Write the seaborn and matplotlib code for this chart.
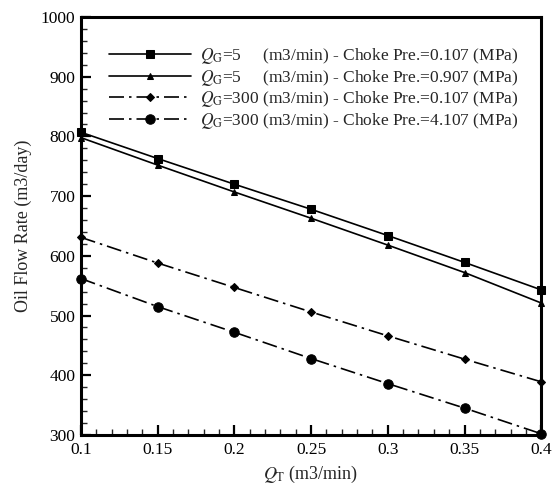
import matplotlib
matplotlib.use("Agg")
import matplotlib.pyplot as plt
from matplotlib.ticker import MultipleLocator
import seaborn as sns
import pandas as pd

q_t = [0.10, 0.15, 0.20, 0.25, 0.30, 0.35, 0.40]
s1 = [807, 763, 720, 678, 634, 589, 543]
s2 = [798, 752, 707, 663, 618, 572, 521]
s3 = [631, 588, 547, 506, 466, 427, 389]
s4 = [562, 515, 472, 428, 386, 345, 302]
labels = [
    r"$Q_{\mathrm{G}}$=5     (m3/min) - Choke Pre.=0.107 (MPa)",
    r"$Q_{\mathrm{G}}$=5     (m3/min) - Choke Pre.=0.907 (MPa)",
    r"$Q_{\mathrm{G}}$=300 (m3/min) - Choke Pre.=0.107 (MPa)",
    r"$Q_{\mathrm{G}}$=300 (m3/min) - Choke Pre.=4.107 (MPa)",
]
series = [s1, s2, s3, s4]
markers = ["s", "^", "D", "o"]
msizes = [6, 5, 4.5, 6.8]
styles = ["-", "-", (0, (9, 3, 1.5, 3)), (0, (9, 3, 1.5, 3))]

sns.set_style("white")
plt.rcParams["font.family"] = ["Liberation Serif", "DejaVu Serif"]
plt.rcParams["mathtext.fontset"] = "stix"

fig = plt.figure(figsize=(5.54, 4.86), dpi=100)
ax = fig.add_axes([0.146, 0.105, 0.831, 0.860])

for vals, lab, m, ms, ls in zip(series, labels, markers, msizes, styles):
    df = pd.DataFrame({"x": q_t, "y": vals})
    sns.lineplot(data=df, x="x", y="y", ax=ax, color="black", marker=m,
                 markersize=ms, linestyle=ls, linewidth=1.2, label=lab,
                 markeredgecolor="black", clip_on=False)

ax.set_xlim(0.1, 0.4)
ax.set_ylim(300, 1000)
ax.xaxis.set_minor_locator(MultipleLocator(0.01))
ax.yaxis.set_major_locator(MultipleLocator(100))
ax.yaxis.set_minor_locator(MultipleLocator(20))
ax.set_xticks(q_t)
ax.set_xticklabels(["0.1", "0.15", "0.2", "0.25", "0.3", "0.35", "0.4"])
ax.tick_params(which="major", direction="in", length=7, width=1.6,
               labelsize=12.5, colors="black", bottom=True, left=True,
               top=False, right=False)
ax.tick_params(axis="x", which="major", pad=5)
ax.tick_params(axis="y", which="major", pad=4)
ax.tick_params(which="minor", direction="in", length=4, width=1,
               bottom=True, left=True, top=False, right=False)
for sp in ax.spines.values():
    sp.set_linewidth(2.2)
    sp.set_color("black")

ax.set_xlabel(r"$Q_{\mathrm{T}}$ (m3/min)", fontsize=13, labelpad=4)
ax.set_ylabel("Oil Flow Rate (m3/day)", fontsize=13, labelpad=6)

leg = ax.legend(loc="upper right", bbox_to_anchor=(0.978, 0.96), frameon=False,
                fontsize=12.5, handlelength=4.7, handletextpad=0.55,
                labelspacing=0.1, borderaxespad=0.3)

fig.savefig("out.png", dpi=100)
